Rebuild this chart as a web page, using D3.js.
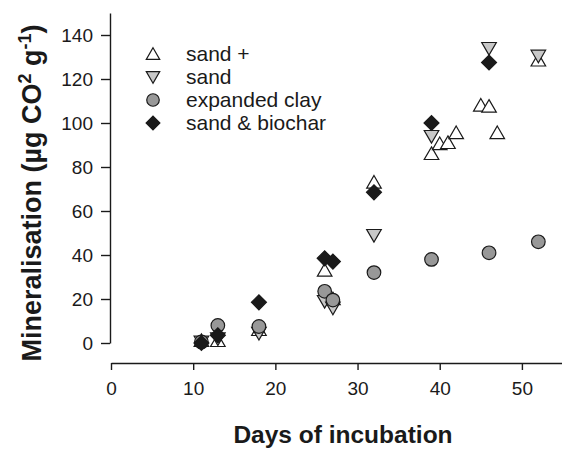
<!DOCTYPE html>
<html>
<head>
<meta charset="utf-8">
<script src="https://cdn.jsdelivr.net/npm/d3@7"></script>
<style>
  body { margin: 0; background: #fff; }
  svg text { font-family: "Liberation Sans", Arial, sans-serif; fill: #1a1a1a; }
</style>
</head>
<body>
<div id="chart"></div>
<script>
// dữ liệu
const seriesNames = ['sand +', 'sand', 'expanded clay', 'sand & biochar'];

const sandPlusDays = [11, 13, 18, 26, 27, 32, 39, 40, 41, 42, 45, 46, 47, 52];
const sandPlusVals = [1, 1, 6, 33, 20, 73, 86, 90.5, 91, 95.5, 108, 107.5, 95.5, 128.5];

const sandDays = [11, 13, 18, 26, 27, 32, 39, 46, 52];
const sandVals = [0.5, 2, 4.5, 19, 16, 49, 94, 134, 130.5];

const clayDays = [11, 13, 18, 26, 27, 32, 39, 46, 52];
const clayVals = [0.5, 8, 7.5, 23.5, 19.5, 32, 38, 41, 46];

const biocharDays = [11, 13, 18, 26, 27, 32, 39, 46];
const biocharVals = [0, 3.5, 18.5, 38.5, 37, 68.5, 100, 127.5];

const xTicks = [0, 10, 20, 30, 40, 50];
const yTicks = [0, 20, 40, 60, 80, 100, 120, 140];

const W = 562, H = 450;
const svg = d3.select('#chart').append('svg')
  .attr('width', W).attr('height', H);

const x = d3.scaleLinear().domain([0, 55]).range([111, 563]);
const y = d3.scaleLinear().domain([0, 150]).range([343, 13]);

// kiểu ký hiệu cho từng chuỗi
const styles = [
  { type: d3.symbolTriangle, size: 92, rotate: 0, fill: '#ffffff', dy: 1.5 },
  { type: d3.symbolTriangle, size: 92, rotate: 180, fill: '#c8c8c8', dy: -1.5 },
  { type: d3.symbolCircle, size: 145, rotate: 0, fill: '#989898', dy: 0 },
  { type: d3.symbolSquare, size: 112, rotate: 45, fill: '#1a1a1a', dy: 0 }
];

const series = [
  sandPlusDays.map((d, i) => ({ day: d, v: sandPlusVals[i] })),
  sandDays.map((d, i) => ({ day: d, v: sandVals[i] })),
  clayDays.map((d, i) => ({ day: d, v: clayVals[i] })),
  biocharDays.map((d, i) => ({ day: d, v: biocharVals[i] }))
];

const FONT = '"Liberation Sans", Arial, sans-serif';

// trục Y
const yAxis = svg.append('g')
  .attr('transform', `translate(${x(0) - 1},0)`)
  .call(d3.axisLeft(y).tickValues(yTicks).tickSize(9).tickPadding(8).tickSizeOuter(0));
yAxis.select('.domain').attr('stroke', '#1a1a1a').attr('stroke-width', 1.4);
yAxis.selectAll('.tick line').attr('stroke', '#1a1a1a').attr('stroke-width', 1.4);
yAxis.selectAll('.tick text').attr('font-size', 19).attr('font-family', FONT).attr('fill', '#1a1a1a');

// trục X (tách rời bên dưới)
const xAxis = svg.append('g')
  .attr('transform', 'translate(0,363)')
  .call(d3.axisBottom(x).tickValues(xTicks).tickSize(7).tickPadding(12).tickSizeOuter(0));
xAxis.select('.domain').attr('stroke', '#1a1a1a').attr('stroke-width', 1.4);
xAxis.selectAll('.tick line').attr('stroke', '#1a1a1a').attr('stroke-width', 1.4);
xAxis.selectAll('.tick text').attr('font-size', 19).attr('font-family', FONT).attr('fill', '#1a1a1a');

// điểm
series.forEach((pts, si) => {
  const st = styles[si];
  const sym = d3.symbol().type(st.type).size(st.size);
  svg.append('g').selectAll('path')
    .data(pts)
    .join('path')
    .attr('d', sym)
    .attr('transform', d => `translate(${x(d.day)},${y(d.v) + st.dy}) rotate(${st.rotate})`)
    .attr('fill', st.fill)
    .attr('stroke', '#1a1a1a')
    .attr('stroke-width', 1.2);
});

// chú giải
const legend = svg.append('g');
seriesNames.forEach((name, i) => {
  const st = styles[i];
  const ly = 54 + i * 23;
  legend.append('path')
    .attr('d', d3.symbol().type(st.type).size(st.size * 0.85))
    .attr('transform', `translate(153,${ly + st.dy}) rotate(${st.rotate})`)
    .attr('fill', st.fill)
    .attr('stroke', '#1a1a1a')
    .attr('stroke-width', 1.2);
  legend.append('text')
    .attr('x', 186).attr('y', ly)
    .attr('dy', '0.35em')
    .attr('font-size', 21)
    .text(name);
});

// tiêu đề trục
svg.append('text')
  .attr('x', 343).attr('y', 443)
  .attr('text-anchor', 'middle')
  .attr('font-size', 24.5)
  .attr('font-weight', 700)
  .text('Days of incubation');

const yt = svg.append('text')
  .attr('transform', 'translate(41,193) rotate(-90)')
  .attr('text-anchor', 'middle')
  .attr('font-size', 27)
  .attr('font-weight', 700);
yt.append('tspan').text('Mineralisation (µg CO');
yt.append('tspan').attr('dy', -10).attr('font-size', 18).text('2');
yt.append('tspan').attr('dy', 10).text(' g');
yt.append('tspan').attr('dy', -10).attr('font-size', 18).text('-1');
yt.append('tspan').attr('dy', 10).text(')');
</script>
</body>
</html>
